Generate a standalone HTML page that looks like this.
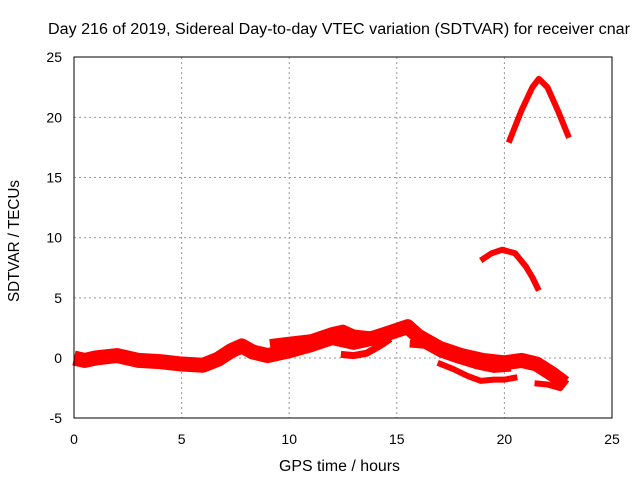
<!DOCTYPE html>
<html><head><meta charset="utf-8"><style>
body{margin:0;background:#fff;}
svg text{font-family:"Liberation Sans",sans-serif;font-size:14px;fill:#000;}
</style></head><body>
<svg id="chart" width="640" height="480" viewBox="0 0 640 480" xmlns="http://www.w3.org/2000/svg">
<text x="48" y="34" textLength="582" lengthAdjust="spacingAndGlyphs" style="font-size:15.5px">Day 216 of 2019, Sidereal Day-to-day VTEC variation (SDTVAR) for receiver cnar</text>
<g id="grid"></g>
<g id="ticks"></g>
<g id="series"></g>
<rect x="74" y="57" width="538" height="361" fill="none" stroke="#000" stroke-width="1"/>
<text x="279" y="471" textLength="121" lengthAdjust="spacingAndGlyphs" style="font-size:15.5px">GPS time / hours</text>
<text transform="translate(19,302) rotate(-90)" textLength="122" lengthAdjust="spacingAndGlyphs" style="font-size:15.5px">SDTVAR / TECUs</text>
</svg>
<script>
const xTicks=[0,5,10,15,20,25];
const yTicks=[-5,0,5,10,15,20,25];
const seriesA=[[0,0],[0.5,-0.2],[1,0],[2,0.2],[3,-0.2],[4,-0.3],[5,-0.5],[6,-0.6],[6.7,-0.1],[7.3,0.6],[7.8,1.0],[8.3,0.5],[9,0.2],[10,0.6],[11,1.1],[12,1.7],[13,1.3],[14,1.7],[15,2.3],[15.5,2.6],[16,1.8],[17,0.8],[18,0.2],[19,-0.2],[20,-0.4],[20.8,-0.2],[21.5,-0.5],[22.2,-1.3],[22.8,-2.1]];
const seriesB=[[9.1,1.2],[10,1.4],[11,1.6],[12,2.2],[12.5,2.4],[13,2.0],[14,1.8],[15,2.5],[15.6,2.8]];
const seriesC=[[12.4,0.3],[13,0.2],[13.6,0.4],[14.2,1.0],[14.7,1.6]];
const seriesD=[[15.6,1.2],[16.3,1.1],[17,0.4],[17.8,-0.1],[18.7,-0.6],[19.5,-0.9],[20.3,-0.8]];
const seriesE=[[16.9,-0.4],[17.6,-0.9],[18.3,-1.5],[18.9,-1.9],[19.5,-1.8],[20,-1.8],[20.6,-1.6]];
const seriesF=[[21.4,-2.1],[22,-2.2],[22.6,-2.5],[22.9,-1.8]];
const seriesG=[[18.9,8.1],[19.4,8.7],[19.9,9.0],[20.5,8.7],[21,7.6],[21.3,6.7],[21.6,5.6]];
const seriesH=[[20.2,17.9],[20.8,20.6],[21.3,22.5],[21.6,23.2],[22.0,22.5],[22.5,20.5],[23.0,18.3]];
const seriesList=[[seriesA,15],[seriesB,9],[seriesC,7],[seriesD,8],[seriesE,6],[seriesF,6],[seriesG,6],[seriesH,6]];
const X=v=>74+v*(538/25);
const Y=v=>358-v*(361/30);
const NS="http://www.w3.org/2000/svg";
const grid=document.getElementById('grid'),ticks=document.getElementById('ticks'),ser=document.getElementById('series');
function mk(tag,attrs,parent){const e=document.createElementNS(NS,tag);for(const k in attrs)e.setAttribute(k,attrs[k]);parent.appendChild(e);return e;}
xTicks.forEach(t=>{
  if(t>0&&t<25){const l=mk('line',{x1:X(t),x2:X(t),y1:57,y2:418,stroke:'#999','stroke-dasharray':'2,3'},grid);
  
  }
  const tx=mk('text',{x:X(t),y:444,'text-anchor':'middle'},ticks);tx.textContent=t;
  
  
});
yTicks.forEach(t=>{
  if(t>-5&&t<25){const l=mk('line',{x1:74,x2:612,y1:Y(t),y2:Y(t),stroke:'#999','stroke-dasharray':'2,3'},grid);
  
  }
  const tx=mk('text',{x:62,y:Y(t)+5,'text-anchor':'end'},ticks);tx.textContent=t;
  
  
});
seriesList.forEach(([s,w])=>{
  const p=mk('polyline',{points:s.map(d=>X(d[0])+','+Y(d[1])).join(' '),fill:'none',stroke:'#f00','stroke-width':w,'stroke-linejoin':'round','stroke-linecap':'butt'},ser);
  
  
});
</script>
</body></html>
